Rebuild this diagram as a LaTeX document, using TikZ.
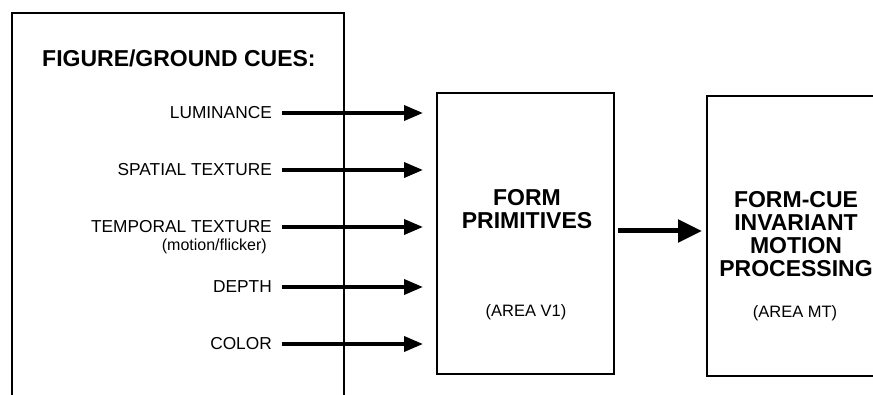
\documentclass[tikz,border=0pt]{standalone}
\usepackage{fontspec}
\setmainfont{Liberation Sans}
\usetikzlibrary{arrows.meta}
\begin{document}
\begin{tikzpicture}[x=1pt,y=-1pt,
  boxline/.style={draw=black,line width=1.3pt},
  blk/.style={boxline,fill=none,inner sep=0pt,outer sep=0pt},
  cue/.style={anchor=east,inner sep=0pt,font=\fontsize{17.3}{19}\selectfont},
  small/.style={anchor=east,inner sep=0pt,font=\fontsize{16}{17}\selectfont},
  head/.style={inner sep=0pt,font=\bfseries\fontsize{23}{23}\selectfont,align=center},
  area/.style={inner sep=0pt,font=\fontsize{16.5}{18}\selectfont},
  arr/.style={line width=3.6pt,-{Triangle[length=19pt,width=15pt]}},
  bigarr/.style={line width=5pt,-{Triangle[length=24pt,width=22pt]}}]
\clip (0,0) rectangle (873,395);
\fill[white] (0,0) rectangle (873,395);
% left open box
\coordinate (lb1) at (12,400);
\coordinate (lb2) at (12,13);
\coordinate (lb3) at (344,13);
\coordinate (lb4) at (344,400);
\draw[boxline] (lb1) -- (lb2) -- (lb3) -- (lb4);
\node[head,anchor=west] (title) at (42,58) {FIGURE/GROUND CUES:};
% boxes
\node[blk,minimum width=177pt,minimum height=281pt] (v1) at (525.5,233.5) {};
\node[blk,minimum width=200pt,minimum height=280pt] (mt) at (807,236) {};
% labels
\node[cue] (lum) at (272,113) {LUMINANCE};
\node[cue] (spa) at (272,170) {SPATIAL TEXTURE};
\node[cue] (tem) at (272,227) {TEMPORAL TEXTURE};
\node[small] (mot) at (267,246.5) {(motion/flicker)};
\node[cue] (dep) at (272,287) {DEPTH};
\node[cue] (col) at (272,344) {COLOR};
% box texts
\node[head] (fp) at (527,209) {FORM\\PRIMITIVES};
\node[area] (av1) at (526,312) {(AREA V1)};
\node[head] (fci) at (796,234) {FORM-CUE\\INVARIANT\\MOTION\\PROCESSING};
\node[area] (amt) at (795,313) {(AREA MT)};
% arrows
\foreach \n in {lum,spa,tem,dep,col}
  \draw[arr,shorten <=10pt,shorten >=14pt] (\n.east) -- (\n.east -| v1.west);
\draw[bigarr,shorten <=4pt,shorten >=5pt] (v1.east |- 0,231) -- (mt.west |- 0,231);
\end{tikzpicture}
\end{document}
